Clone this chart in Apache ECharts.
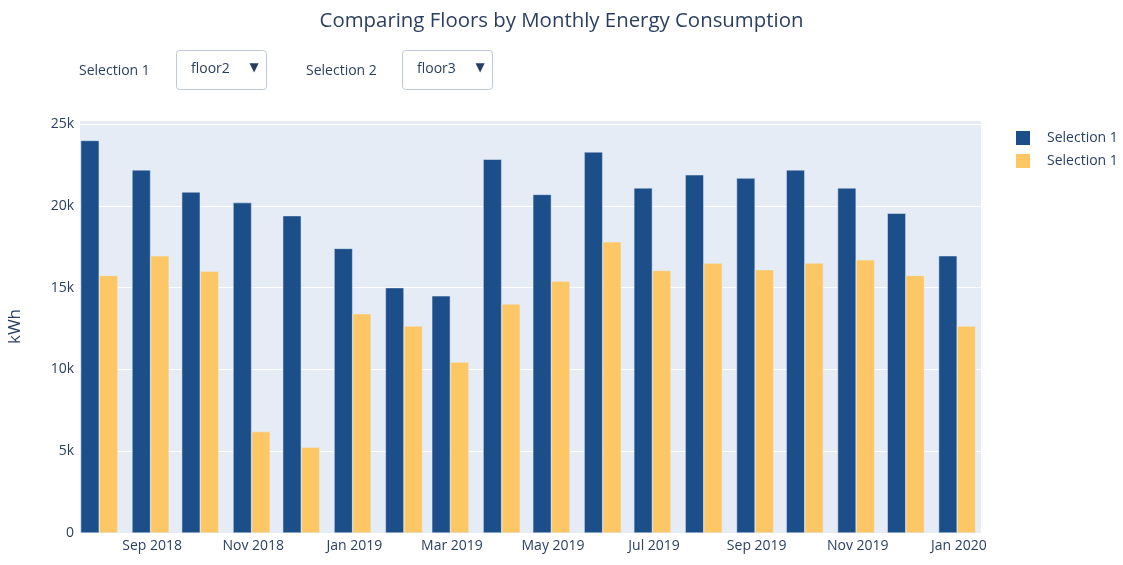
<!DOCTYPE html>
<html>
<head>
<meta charset="utf-8">
<script src="https://cdn.jsdelivr.net/npm/echarts@6/dist/echarts.min.js"></script>
<style>
html,body{margin:0;padding:0;background:#fff;}
#chart{width:1123px;height:565px;}
</style>
</head>
<body>
<div id="chart"></div>
<script>
// ---- data ----
const months = ['2018-07-31','2018-08-31','2018-09-30','2018-10-31','2018-11-30','2018-12-31',
  '2019-01-31','2019-02-28','2019-03-31','2019-04-30','2019-05-31','2019-06-30',
  '2019-07-31','2019-08-31','2019-09-30','2019-10-31','2019-11-30','2019-12-31'];
const floor2 = [24000, 22200, 20850, 20200, 19400, 17400, 15000, 14500, 22850, 20700, 23300, 21100, 21900, 21700, 22200, 21100, 19550, 16950];
const floor3 = [15750, 16950, 16000, 6200, 5250, 13400, 12650, 10450, 14000, 15400, 17800, 16050, 16500, 16100, 16500, 16700, 15750, 12650];
const seriesNames = ['floor2', 'floor3'];
const legendLabels = ['Selection 1', 'Selection 1'];
const tickDates = ['2018-09-01','2018-11-01','2019-01-01','2019-03-01','2019-05-01','2019-07-01','2019-09-01','2019-11-01','2020-01-01'];
const tickLabels = ['Sep 2018','Nov 2018','Jan 2019','Mar 2019','May 2019','Jul 2019','Sep 2019','Nov 2019','Jan 2020'];
const yTicks = [0, 5000, 10000, 15000, 20000, 25000];
const yTickLabels = ['0', '5k', '10k', '15k', '20k', '25k'];
const yMax = 25250;
const dropdowns = [
  {label: 'Selection 1', value: 'floor2'},
  {label: 'Selection 2', value: 'floor3'}
];

// ---- helpers ----
const DAY = 86400000;
function ts(s){ const p = s.split('-').map(Number); return Date.UTC(p[0], p[1]-1, p[2]); }
const xs = months.map(ts);
let minGap = Infinity;
for (let i = 1; i < xs.length; i++) minGap = Math.min(minGap, xs[i] - xs[i-1]);
const pad = minGap * 0.4;
const tickTs = tickDates.map(ts);

const FONT = "'Open Sans', 'Noto Sans', sans-serif";
const TXT = '#2a3f5f';
const colors = ['#1c4f8a', '#fec765'];

const chart = echarts.init(document.getElementById('chart'), null, {renderer: 'canvas'});

const graphics = [];
const ddX = [[79, 176, 191, 254], [306, 402, 417, 480]];
dropdowns.forEach((d, i) => {
  const [lx, bx, tx, ax] = ddX[i];
  graphics.push({type:'text', style:{text:d.label, x:lx, y:71.5, font:'14px ' + FONT, fill:TXT, align:'left', verticalAlign:'middle'}});
  graphics.push({type:'rect', shape:{x:bx + 0.5, y:50.5, width:90, height:39, r:3}, style:{fill:'#fff', stroke:'#bec8d9', lineWidth:1}});
  graphics.push({type:'text', style:{text:d.value, x:tx, y:69.5, font:'14px ' + FONT, fill:TXT, align:'left', verticalAlign:'middle'}});
  graphics.push({type:'text', style:{text:'▼', x:ax, y:68, font:'12px DejaVu Sans', fill:TXT, align:'center', verticalAlign:'middle'}});
});

const option = {
  animation: false,
  backgroundColor: '#fff',
  title: {
    text: 'Comparing Floors by Monthly Energy Consumption',
    left: 'center', top: 6,
    textStyle: {fontFamily: FONT, fontSize: 20.4, fontWeight: 'normal', color: TXT}
  },
  legend: {
    orient: 'vertical', left: 1016, top: 131, padding: 0,
    itemWidth: 14, itemHeight: 14, itemGap: 9,
    icon: 'rect',
    data: seriesNames,
    formatter: name => legendLabels[seriesNames.indexOf(name)],
    itemStyle: {borderWidth: 0},
    textStyle: {fontFamily: FONT, fontSize: 14, color: TXT, padding: [0, 0, 0, 12]}
  },
  grid: {
    left: 80, right: 142, top: 120, bottom: 32,
    show: true, backgroundColor: '#e5ecf6', borderWidth: 0,
    containLabel: false, outerBoundsMode: 'none'
  },
  xAxis: {
    type: 'value',
    min: xs[0] - pad - 0.4 * DAY,
    max: xs[xs.length - 1] + pad + 3.2 * DAY,
    axisLine: {show: false},
    axisTick: {show: false},
    splitLine: {show: false},
    axisLabel: {
      customValues: tickTs,
      formatter: v => { const i = tickTs.indexOf(v); return i >= 0 ? tickLabels[i] : ''; },
      fontFamily: FONT, fontSize: 14, color: TXT, margin: 6,
      showMinLabel: true, showMaxLabel: true
    }
  },
  yAxis: {
    type: 'value',
    min: 0, max: yMax, interval: 5000,
    name: 'kWh', nameLocation: 'middle', nameGap: 56,
    nameTextStyle: {fontFamily: FONT, fontSize: 17, color: TXT},
    axisLine: {show: false},
    axisTick: {show: false},
    splitLine: {lineStyle: {color: '#ffffff', width: 1}},
    axisLabel: {
      fontFamily: FONT, fontSize: 14, color: TXT, margin: 6,
      formatter: v => { const i = yTicks.indexOf(v); return i >= 0 ? yTickLabels[i] : ''; }
    }
  },
  series: [floor2, floor3].map((vals, si) => ({
    name: seriesNames[si],
    type: 'bar',
    data: xs.map((x, i) => [x, vals[i]]),
    barGap: '0%',
    barCategoryGap: '20%',
    itemStyle: {color: colors[si], borderColor: '#e5ecf6', borderWidth: 0.5}
  })),
  graphic: graphics
};
chart.setOption(option);
</script>
</body>
</html>
